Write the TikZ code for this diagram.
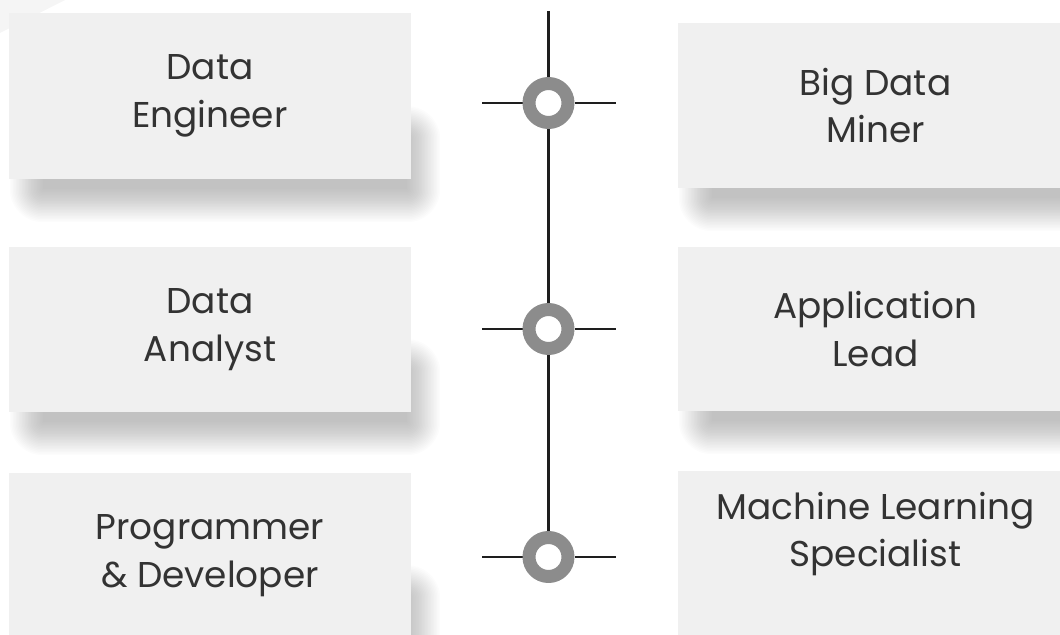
\documentclass[tikz,border=0pt]{standalone}
\usepackage{fontspec}
\setmainfont{Poppins}
\usetikzlibrary{positioning,backgrounds}

\definecolor{boxfill}{HTML}{F0F0F0}
\definecolor{ringgray}{HTML}{8C8C8C}
\definecolor{linecol}{HTML}{1E1E1E}
\definecolor{textcol}{HTML}{333333}

\tikzset{
  roletext/.style={text=textcol, align=center, font=\fontsize{36}{48}\selectfont},
  rolebox/.style={rectangle, fill=boxfill, minimum width=402bp, minimum height=165bp,
    inner sep=0pt, roletext},
  rightbox/.style={rolebox, minimum width=395bp},
  ring/.style={circle, draw=ringgray, line width=13bp, fill=white,
    minimum size=39bp, inner sep=0pt},
  spine/.style={draw=linecol, line width=2.5bp},
  tick/.style={draw=linecol, line width=2bp},
}

% soft shadow under a box
\newcommand{\softshadow}[1]{%
  \foreach \s in {0,1.5,...,33}{
    \fill[black, opacity=0.012, rounded corners=\s bp]
      ([xshift=34bp-\s bp, yshift=-10bp-\s bp]#1.south west) rectangle
      ([xshift=-4bp+\s bp, yshift=40bp+\s bp]#1.south east);
  }}

\begin{document}
\begin{tikzpicture}[x=1bp,y=-1bp,>=latex,line join=bevel]
\useasboundingbox (0,0) rectangle (1060,635);
\clip (0,0) rectangle (1060,635);
%%
  % Node: de
  \node[rolebox, minimum height=166bp] (de) at (210,96) {Data\\Engineer};
  % Node: bdm
  \node[rightbox] (bdm) at (875.5,105.5) {Big Data\\Miner};
  % Node: da
  \node[rolebox] (da) at (210,329.5) {Data\\Analyst};
  % Node: al
  \node[rightbox, minimum height=164bp] (al) at (875.5,329) {Application\\Lead};
  % Node: pd
  \node[rolebox] (pd) at (210,555.5) {Programmer\\\& Developer};
  % Node: ml
  \node[rightbox, label={[roletext, yshift=19.5bp]center:{Machine Learning\\Specialist}}]
    (ml) at (875.5,553.5) {};
  % Node: r1, r2, r3
  \node[ring] (r1) at (548.5,103) {};
  \node[ring] (r2) at (548.5,329) {};
  \node[ring] (r3) at (548.5,557) {};
  \coordinate (top) at (548.5,11);
  \coordinate (r1w) at (482,103);  \coordinate (r1e) at (616,103);
  \coordinate (r2w) at (482,329);  \coordinate (r2e) at (616,329);
  \coordinate (r3w) at (482,557);  \coordinate (r3e) at (616,557);
%%
\begin{scope}[on background layer]
  \fill[black!4] (0,0) -- (65,0) -- (0,33) -- cycle;
  \softshadow{de}
  \softshadow{bdm}
  \softshadow{da}
  \softshadow{al}
  \softshadow{pd}
  \softshadow{ml}
  % Edge: top -- r1 -- r2 -- r3
  \draw[spine] (top) -- (r1.north);
  \draw[spine] (r1.south) -- (r2.north);
  \draw[spine] (r2.south) -- (r3.north);
  % Edge: ticks
  \draw[tick] (r1w) -- (r1.west);  \draw[tick] (r1.east) -- (r1e);
  \draw[tick] (r2w) -- (r2.west);  \draw[tick] (r2.east) -- (r2e);
  \draw[tick] (r3w) -- (r3.west);  \draw[tick] (r3.east) -- (r3e);
\end{scope}
%
\end{tikzpicture}
\end{document}
